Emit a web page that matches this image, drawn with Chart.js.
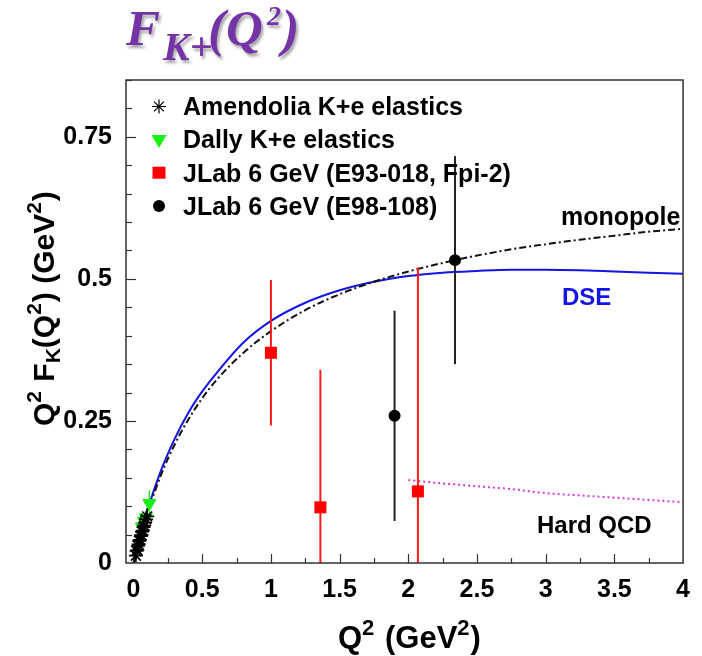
<!DOCTYPE html>
<html>
<head>
<meta charset="utf-8">
<script src="https://cdn.jsdelivr.net/npm/chart.js@4.4.1/dist/chart.umd.min.js"></script>
<style>
  html, body { margin: 0; padding: 0; background: #ffffff; }
  #wrap { width: 702px; height: 656px; }
</style>
</head>
<body>
<div id="wrap"><canvas id="c" width="702" height="656"></canvas></div>
<script>
// Amendolia K+e elastic scattering: Q^2 (GeV^2), Q^2 F_K (GeV^2), error
const amendoliaQ2  = [0.017, 0.022, 0.027, 0.032, 0.037, 0.042, 0.047, 0.052, 0.057, 0.062, 0.067, 0.072, 0.078, 0.084, 0.091, 0.099];
const amendoliaVal = [0.013, 0.021, 0.023, 0.030, 0.033, 0.039, 0.041, 0.047, 0.049, 0.055, 0.057, 0.063, 0.066, 0.071, 0.077, 0.082];
const amendoliaErr = [0.007, 0.008, 0.008, 0.009, 0.009, 0.010, 0.010, 0.011, 0.011, 0.012, 0.012, 0.013, 0.013, 0.014, 0.014, 0.015];

// Dally K+e elastic scattering
const dallyQ2  = [0.060, 0.075, 0.090, 0.115];
const dallyVal = [0.064, 0.074, 0.080, 0.105];
const dallyErr = [0.009, 0.010, 0.012, 0.023];

// JLab 6 GeV, E93-018 (Fpi-2)
const e93Q2  = [1.00, 1.36, 2.07];
const e93Val = [0.370, 0.098, 0.126];
const e93Err = [0.128, 0.242, 0.394];

// JLab 6 GeV, E98-108
const e98Q2  = [1.90, 2.34];
const e98Val = [0.259, 0.533];
const e98Err = [0.185, 0.183];

// Monopole curve
const monoQ2  = [0, 0.05, 0.1, 0.2, 0.3, 0.4, 0.5, 0.6, 0.8, 1.0, 1.25, 1.5, 1.75, 2.0, 2.25, 2.5, 2.75, 3.0, 3.25, 3.5, 3.75, 4.0];
const monoVal = [0, 0.047, 0.087, 0.155, 0.209, 0.253, 0.290, 0.321, 0.370, 0.408, 0.445, 0.473, 0.495, 0.513, 0.528, 0.541, 0.552, 0.561, 0.569, 0.576, 0.583, 0.588];

// DSE curve
const dseQ2  = [0, 0.05, 0.1, 0.2, 0.3, 0.4, 0.5, 0.6, 0.8, 1.0, 1.25, 1.5, 1.75, 2.0, 2.25, 2.5, 2.75, 3.0, 3.25, 3.5, 3.75, 4.0];
const dseVal = [0, 0.050, 0.092, 0.163, 0.219, 0.265, 0.302, 0.333, 0.388, 0.426, 0.458, 0.480, 0.495, 0.505, 0.511, 0.514, 0.516, 0.516, 0.515, 0.513, 0.511, 0.509];

// Hard QCD curve
const hardQ2  = [2.0, 2.25, 2.5, 2.75, 3.0, 3.25, 3.5, 3.75, 4.0];
const hardVal = [0.146, 0.140, 0.135, 0.130, 0.123, 0.119, 0.115, 0.111, 0.107];

// Axis tick labels
const xTickValues = [0, 0.5, 1, 1.5, 2, 2.5, 3, 3.5, 4];
const xTickLabels = ['0', '0.5', '1', '1.5', '2', '2.5', '3', '3.5', '4'];
const yTickValues = [0, 0.25, 0.5, 0.75];
const yTickLabels = ['0', '0.25', '0.5', '0.75'];

const SANS = '"Liberation Sans", Arial, Helvetica, sans-serif';
const SERIF = '"Liberation Serif", "Times New Roman", serif';

function toPoints(xs, ys, es) {
  return xs.map((x, i) => es ? { x: x, y: ys[i], err: es[i] } : { x: x, y: ys[i] });
}

// Rich-text helper: runs of {t, size, dy, gap}
function drawRuns(ctx, x, y, runs, base) {
  let cx = x;
  runs.forEach(r => {
    ctx.font = (r.style || base.style) + ' ' + (r.size || base.size) + 'px ' + (r.family || base.family);
    ctx.fillText(r.t, cx, y + (r.dy || 0));
    cx += ctx.measureText(r.t).width + (r.gap || 0);
  });
  return cx;
}

const errorBars = {
  id: 'errorBars',
  beforeDatasetDraw(chart, args) {
    const ds = chart.data.datasets[args.index];
    if (!ds.errColor) return;
    const { ctx, chartArea: a } = chart;
    const xs = chart.scales.x, ys = chart.scales.y;
    ctx.save();
    ctx.beginPath();
    ctx.rect(a.left, a.top, a.right - a.left, a.bottom - a.top);
    ctx.clip();
    ctx.strokeStyle = ds.errColor;
    ctx.lineWidth = ds.errWidth || 1.5;
    ds.data.forEach(p => {
      const px = xs.getPixelForValue(p.x);
      ctx.beginPath();
      ctx.moveTo(px, ys.getPixelForValue(p.y - p.err));
      ctx.lineTo(px, ys.getPixelForValue(p.y + p.err));
      ctx.stroke();
    });
    ctx.restore();
  }
};

const decorations = {
  id: 'decorations',
  afterDraw(chart) {
    const { ctx, chartArea: a } = chart;
    const xs = chart.scales.x, ys = chart.scales.y;
    ctx.save();

    // frame
    ctx.strokeStyle = '#333';
    ctx.lineWidth = 1.5;
    ctx.strokeRect(a.left, a.top, a.right - a.left, a.bottom - a.top);

    // x ticks: every 0.25, longer at labelled values
    ctx.lineWidth = 1.2;
    for (let i = 1; i < 16; i++) {
      const v = i * 0.25;
      const px = Math.round(xs.getPixelForValue(v)) + 0.5;
      const len = (i % 2 === 0) ? 9 : 5;
      ctx.beginPath();
      ctx.moveTo(px, a.bottom);
      ctx.lineTo(px, a.bottom - len);
      ctx.stroke();
    }
    // y ticks: every 0.05, longer at labelled values
    for (let i = 1; i <= 17; i++) {
      const v = i * 0.05;
      const py = Math.round(ys.getPixelForValue(v)) + 0.5;
      const len = (i % 5 === 0) ? 10 : 6;
      ctx.beginPath();
      ctx.moveTo(a.left, py);
      ctx.lineTo(a.left + len, py);
      ctx.stroke();
    }

    // curve labels
    ctx.textBaseline = 'alphabetic';
    ctx.textAlign = 'left';
    ctx.fillStyle = '#000';
    ctx.font = 'bold 25px ' + SANS;
    ctx.fillText('monopole', 561, 225);
    ctx.font = 'bold 24px ' + SANS;
    ctx.fillText('Hard QCD', 537, 533);
    ctx.fillStyle = '#1414e6';
    ctx.fillText('DSE', 562, 305);

    // legend
    const rows = [115, 148.3, 181.7, 215];
    const names = ['Amendolia K+e elastics', 'Dally K+e elastics', 'JLab 6 GeV (E93-018, Fpi-2)', 'JLab 6 GeV (E98-108)'];
    ctx.fillStyle = '#000';
    ctx.font = 'bold 25px ' + SANS;
    names.forEach((n, i) => ctx.fillText(n, 183, rows[i]));
    const sx = 159;
    ctx.strokeStyle = '#000';
    Chart.helpers.drawPoint(ctx, { pointStyle: 'star', radius: 7, borderWidth: 1.8, rotation: 0 }, sx, rows[0] - 8.5);
    ctx.fillStyle = '#18f018';
    ctx.strokeStyle = '#18f018';
    Chart.helpers.drawPoint(ctx, { pointStyle: 'triangle', radius: 7.5, borderWidth: 1, rotation: 180 }, sx, rows[1] - 9);
    ctx.fillStyle = '#ff0000';
    ctx.fillRect(sx - 6.5, rows[2] - 15, 13, 12);
    ctx.fillStyle = '#000';
    ctx.beginPath();
    ctx.arc(sx, rows[3] - 9, 6, 0, Math.PI * 2);
    ctx.fill();

    // axis titles
    ctx.fillStyle = '#000';
    drawRuns(ctx, 338, 648, [
      { t: 'Q' }, { t: '2', size: 22, dy: -13, gap: 2 }, { t: ' (GeV' }, { t: '2', size: 22, dy: -13, gap: 1 }, { t: ')' }
    ], { style: 'bold', size: 31, family: SANS });

    ctx.save();
    ctx.translate(54, 426);
    ctx.rotate(-Math.PI / 2);
    drawRuns(ctx, 0, 0, [
      { t: 'Q' }, { t: '2', size: 21, dy: -13, gap: 1 }, { t: ' F' }, { t: 'K', size: 21, dy: 6 }, { t: '(Q' },
      { t: '2', size: 21, dy: -13, gap: 1 }, { t: ') (GeV' }, { t: '2', size: 21, dy: -13, gap: 1 }, { t: ')' }
    ], { style: 'bold', size: 30, family: SANS });
    ctx.restore();

    // page title
    ctx.save();
    ctx.fillStyle = '#7434a6';
    ctx.shadowColor = 'rgba(0,0,0,0.35)';
    ctx.shadowOffsetX = 2;
    ctx.shadowOffsetY = 3;
    ctx.shadowBlur = 3;
    ctx.font = 'italic bold 51px ' + SERIF;
    ctx.fillText('F', 126, 45);
    ctx.font = 'italic bold 40px ' + SERIF;
    ctx.fillText('K+', 163, 60);
    ctx.font = 'italic bold 52px ' + SERIF;
    ctx.fillText('(', 208, 46);
    ctx.font = 'italic bold 51px ' + SERIF;
    ctx.fillText('Q', 226, 45);
    ctx.font = 'italic bold 28px ' + SERIF;
    ctx.fillText('2', 267, 25);
    ctx.font = 'italic bold 52px ' + SERIF;
    ctx.fillText(')', 282, 46);
    ctx.restore();

    ctx.restore();
  }
};

const tickFont = { family: SANS, size: 25, weight: 'bold' };

new Chart(document.getElementById('c'), {
  type: 'scatter',
  data: {
    datasets: [
      {
        label: 'DSE', type: 'line', data: toPoints(dseQ2, dseVal),
        borderColor: '#1414e6', borderWidth: 2, pointRadius: 0, fill: false,
        cubicInterpolationMode: 'monotone', order: 10
      },
      {
        label: 'monopole', type: 'line', data: toPoints(monoQ2, monoVal),
        borderColor: '#111', borderWidth: 2, borderDash: [7, 3, 2, 3], pointRadius: 0, fill: false,
        cubicInterpolationMode: 'monotone', order: 9
      },
      {
        label: 'Hard QCD', type: 'line', data: toPoints(hardQ2, hardVal),
        borderColor: '#d83cd8', borderWidth: 2, borderDash: [2, 3], pointRadius: 0, fill: false,
        cubicInterpolationMode: 'monotone', order: 8
      },
      {
        label: 'Dally K+e elastics', data: toPoints(dallyQ2, dallyVal, dallyErr),
        pointStyle: 'triangle', rotation: 180, pointRadius: 7.5, backgroundColor: '#18f018', borderColor: '#18f018', borderWidth: 1,
        errColor: '#18f018', errWidth: 1.5, order: 5
      },
      {
        label: 'Amendolia K+e elastics', data: toPoints(amendoliaQ2, amendoliaVal, amendoliaErr),
        pointStyle: 'star', pointRadius: 7, borderColor: '#000', borderWidth: 1.6,
        errColor: '#000', errWidth: 1.4, order: 4
      },
      {
        label: 'JLab 6 GeV (E93-018, Fpi-2)', data: toPoints(e93Q2, e93Val, e93Err),
        pointStyle: 'rect', pointRadius: 8.5, backgroundColor: '#ff0000', borderColor: '#ff0000', borderWidth: 0,
        errColor: '#ff1a1a', errWidth: 2, order: 2
      },
      {
        label: 'JLab 6 GeV (E98-108)', data: toPoints(e98Q2, e98Val, e98Err),
        pointStyle: 'circle', pointRadius: 6, backgroundColor: '#000', borderColor: '#000', borderWidth: 0,
        errColor: '#222', errWidth: 2, order: 1
      }
    ]
  },
  options: {
    responsive: false,
    animation: false,
    devicePixelRatio: 1,
    events: [],
    layout: { padding: { left: 0, top: 80, right: 18, bottom: 0 } },
    plugins: { legend: { display: false }, tooltip: { enabled: false }, title: { display: false } },
    scales: {
      x: {
        type: 'linear', min: -0.055, max: 4,
        grid: { display: false, drawTicks: false },
        border: { display: false },
        afterBuildTicks: s => { s.ticks = xTickValues.map(v => ({ value: v })); },
        afterFit: s => { s.height = 93; },
        ticks: {
          autoSkip: false, maxRotation: 0, padding: 12, color: '#000', font: tickFont,
          callback: v => xTickLabels[xTickValues.indexOf(v)]
        }
      },
      y: {
        type: 'linear', min: 0, max: 0.85,
        grid: { display: false, drawTicks: false },
        border: { display: false },
        afterBuildTicks: s => { s.ticks = yTickValues.map(v => ({ value: v })); },
        afterFit: s => { s.width = 126; },
        ticks: {
          autoSkip: false, padding: 14, color: '#000', font: tickFont,
          callback: v => yTickLabels[yTickValues.indexOf(v)]
        }
      }
    }
  },
  plugins: [errorBars, decorations]
});
</script>
</body>
</html>
